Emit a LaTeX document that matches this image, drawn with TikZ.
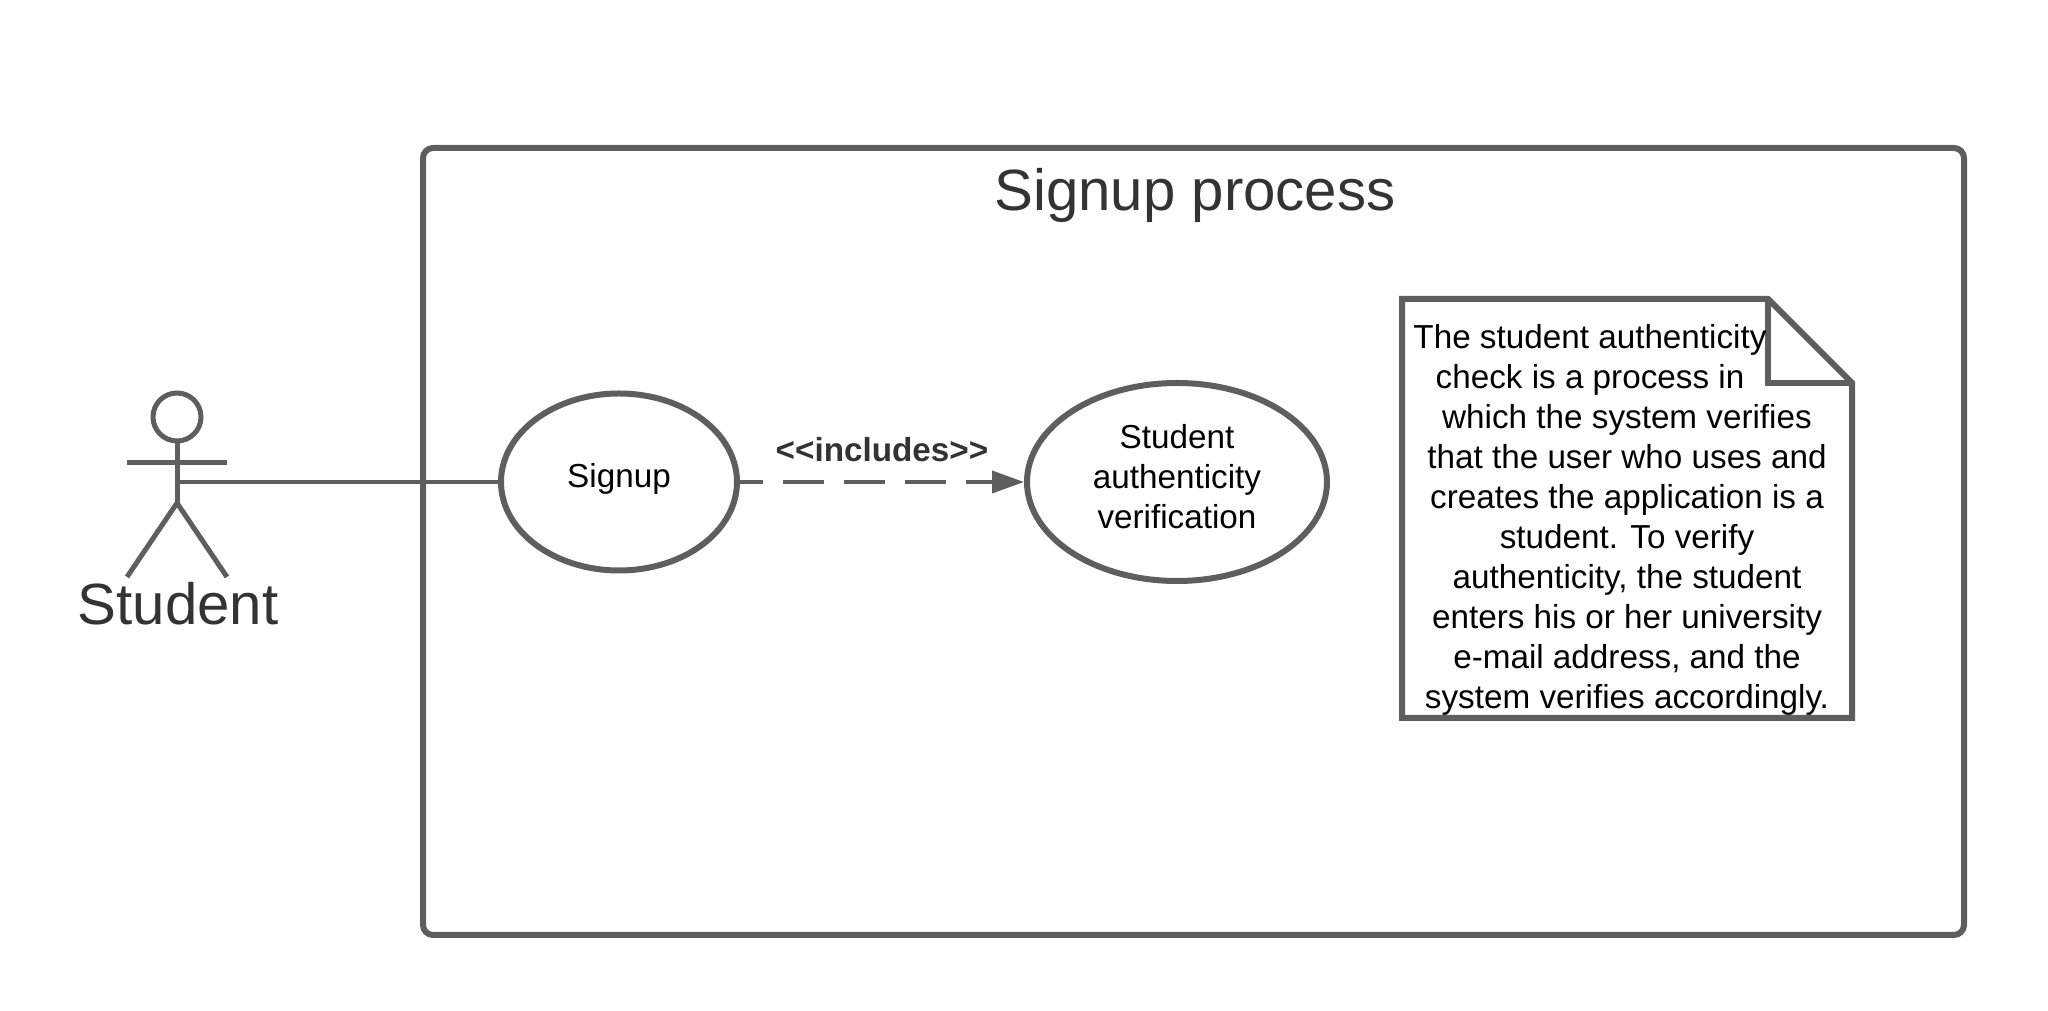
\documentclass[tikz,border=0pt]{standalone}
\usepackage{fontspec}
\setmainfont{Liberation Sans}
\usetikzlibrary{arrows.meta,shapes.geometric}
\definecolor{linegray}{HTML}{5E5E5E}
\definecolor{labelgray}{HTML}{333333}
\tikzset{
  usecase/.style={draw=linegray,line width=.06cm,ellipse,inner sep=0pt,align=center,font=\fontsize{9.46}{11.4}\selectfont},
  limb/.style={draw=linegray,line width=.05cm},
}
\begin{document}
\begin{tikzpicture}[>=stealth]
\useasboundingbox (0,0) rectangle (20.48,-10.11);
\node[draw=linegray,line width=.06cm,rounded corners=.1cm,minimum width=15.41cm,minimum height=7.87cm,inner sep=0pt] (frame) at (11.935,-5.415) {};
\node[text=labelgray,font=\fontsize{16.55}{19}\selectfont] (title) at (11.95,-1.95) {Signup process};

\node[usecase,minimum width=2.36cm,minimum height=1.77cm,text depth=3.5pt] (signup) at (6.19,-4.82) {Signup};
\node[usecase,minimum width=3.0cm,minimum height=1.98cm,text depth=3.3pt] (verify) at (11.77,-4.82) {Student\\authenticity\\verification};
\node[text=labelgray,font=\bfseries\fontsize{9.46}{11.4}\selectfont] (includes) at (8.82,-4.5) {<{}<includes>{}>};

\node[draw=linegray,line width=.05cm,circle,minimum size=.48cm,inner sep=0pt] (head) at (1.77,-4.17) {};
\coordinate (armL) at (1.27,-4.63);
\coordinate (armR) at (2.27,-4.63);
\coordinate (hip) at (1.77,-5.03);
\coordinate (footL) at (1.27,-5.77);
\coordinate (footR) at (2.27,-5.77);
\coordinate (waist) at (1.77,-4.82);
\draw[limb] (head) -- (hip);
\draw[limb] (armL) -- (armR);
\draw[limb] (footL) -- (hip) -- (footR);
\node[text=labelgray,font=\fontsize{16.55}{19}\selectfont] (student) at (1.78,-6.04) {Student};

\draw[draw=linegray,line width=.04cm] (waist) -- (signup.west);
\draw[draw=linegray,line width=.04cm,dash pattern=on .41cm off .2cm,dash phase=.18cm,-{Triangle[length=.32cm,width=.22cm,fill=linegray]}] (signup.east) -- (verify.west);

% note with folded corner
\draw[draw=linegray,line width=.06cm,miter limit=10] (14.02,-2.99) -- (17.68,-2.99) -- (18.52,-3.83) -- (18.52,-7.18) -- (14.02,-7.18) -- cycle;
\draw[draw=linegray,line width=.06cm] (17.68,-2.99) -- (17.68,-3.83) -- (18.52,-3.83);
\node[align=center,inner sep=0pt,font=\fontsize{9.46}{11.4}\selectfont] (note) at (16.27,-5.2) {\mbox{The student authenticity\kern.74cm}\\\mbox{check is a process in\kern.74cm}\\which the system verifies\\that the user who uses and\\creates the application is a\\student. To verify\\authenticity, the student\\enters his or her university\\e-mail address, and the\\system verifies accordingly.};
\end{tikzpicture}
\end{document}
